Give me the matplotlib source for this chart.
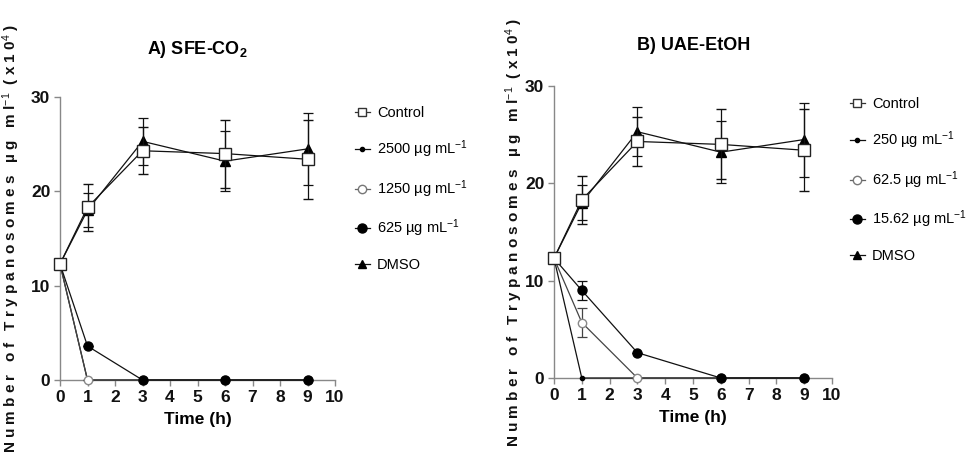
import matplotlib
matplotlib.use("Agg")
import matplotlib.pyplot as plt

FONT = 'Liberation Sans'
plt.rcParams['font.family'] = [FONT, 'DejaVu Sans']
plt.rcParams['mathtext.fontset'] = 'custom'
plt.rcParams['mathtext.rm'] = FONT
plt.rcParams['mathtext.it'] = FONT
plt.rcParams['mathtext.bf'] = FONT + ':bold'

# ---- data ----
time = [0, 1, 3, 6, 9]

control = [12.3, 18.3, 24.3, 24.0, 23.4]
control_err = [0.0, 2.5, 2.5, 3.6, 4.2]
dmso = [12.3, 18.0, 25.3, 23.2, 24.5]
dmso_err = [0.0, 1.8, 2.5, 3.2, 3.8]

# Panel A (SFE-CO2)
a_high = [12.3, 0.0, 0.0, 0.0, 0.0]
a_mid = [12.3, 0.0, 0.0, 0.0, 0.0]
a_mid_err = [0.0, 0.0, 0.0, 0.0, 0.0]
a_low = [12.3, 3.6, 0.0, 0.0, 0.0]
a_low_err = [0.0, 0.0, 0.0, 0.0, 0.0]
a_labels = ['Control', '2500 µg mL$^{-1}$', '1250 µg mL$^{-1}$', '625 µg mL$^{-1}$', 'DMSO']

# Panel B (UAE-EtOH)
b_high = [12.3, 0.0, 0.0, 0.0, 0.0]
b_mid = [12.3, 5.7, 0.0, 0.0, 0.0]
b_mid_err = [0.0, 1.5, 0.0, 0.0, 0.0]
b_low = [12.3, 9.0, 2.6, 0.0, 0.0]
b_low_err = [0.0, 1.0, 0.0, 0.0, 0.0]
b_labels = ['Control', '250 µg mL$^{-1}$', '62.5 µg mL$^{-1}$', '15.62 µg mL$^{-1}$', 'DMSO']

xticks = list(range(0, 11))
yticks = [0, 10, 20, 30]

fig = plt.figure(figsize=(9.75, 4.59), dpi=100)
axA = fig.add_axes([60/975, 79/459, 275/975, 283/459])
axB = fig.add_axes([554/975, 81/459, 278/975, 292/459])

lw = 0.9


def panel(ax, high, mid, mid_err, low, low_err, labels, legend_anchor):
    ax.errorbar(time, mid, yerr=mid_err, color='#444444', lw=lw, marker='o', ms=6,
                mfc='white', mec='#888888', capsize=3.5, elinewidth=lw, capthick=lw,
                clip_on=False, zorder=3)
    ax.plot(time, high, color='#111111', lw=lw, marker='o', ms=3, mfc='black',
            mec='black', clip_on=False, zorder=3)
    ax.errorbar(time, low, yerr=low_err, color='#111111', lw=lw, marker='o', ms=6.5,
                mfc='black', mec='black', capsize=3.5, elinewidth=lw, capthick=lw,
                clip_on=False, zorder=3)
    ax.errorbar(time, dmso, yerr=dmso_err, color='#111111', lw=lw, marker='^', ms=7,
                mfc='black', mec='black', capsize=3.5, elinewidth=lw, capthick=lw,
                clip_on=False, zorder=4)
    ax.errorbar(time, control, yerr=control_err, color='#111111', lw=lw, marker='s', ms=8,
                mfc='white', mec='#222222', mew=1.0, capsize=3.5, elinewidth=lw,
                capthick=lw, clip_on=False, zorder=5)
    # legend proxies
    hc, = ax.plot([], [], color='#333333', lw=lw, marker='s', ms=6, mfc='white', mec='#333333')
    hh, = ax.plot([], [], color='#111111', lw=lw, marker='o', ms=3, mfc='black', mec='black')
    hm, = ax.plot([], [], color='#666666', lw=lw, marker='o', ms=6, mfc='white', mec='#777777')
    hl, = ax.plot([], [], color='#111111', lw=lw, marker='o', ms=6.5, mfc='black', mec='black')
    hd, = ax.plot([], [], color='#111111', lw=lw, marker='^', ms=6, mfc='black', mec='black')
    ax.legend([hc, hh, hm, hl, hd], labels, loc='upper left', bbox_to_anchor=legend_anchor,
              bbox_transform=fig.transFigure,
              frameon=False, fontsize=10.5, handlelength=1.0, handletextpad=0.5,
              labelspacing=1.25, borderaxespad=0, borderpad=0)

    ax.set_xlim(0, 10)
    ax.set_ylim(0, 30)
    ax.set_xticks(xticks)
    ax.set_yticks(yticks)
    for s in ['top', 'right']:
        ax.spines[s].set_visible(False)
    for s in ['left', 'bottom']:
        ax.spines[s].set_color('#888888')
        ax.spines[s].set_linewidth(1.0)
    ax.tick_params(direction='out', length=4, width=1.0, color='#888888',
                   labelsize=12.5, labelcolor='#111111', pad=3)
    for t in ax.get_xticklabels() + ax.get_yticklabels():
        t.set_fontweight('bold')
    ax.set_xlabel('Time (h)', fontsize=12.5, fontweight='bold', labelpad=5)


panel(axA, a_high, a_mid, a_mid_err, a_low, a_low_err, a_labels, (355/975, 1 - 106/459))
panel(axB, b_high, b_mid, b_mid_err, b_low, b_low_err, b_labels, (850/975, 1 - 97/459))

fig.text(197/975, 1 - 50/459, 'A) SFE-CO$_\\mathbf{2}$', ha='center', va='center',
         fontsize=13, fontweight='bold')
fig.text(694/975, 1 - 45/459, 'B) UAE-EtOH', ha='center', va='center',
         fontsize=13, fontweight='bold')

ylab = 'N u m b e r   o f   T r y p a n o s o m e s   µ g   m l$^{-1}$  ( x 1 0$^{4}$ )'
fig.text(11/975, 1 - 238/459, ylab, rotation=90, ha='center', va='center',
         fontsize=11, fontweight='bold', color='#111111')
fig.text(514/975, 1 - 232/459, ylab, rotation=90, ha='center', va='center',
         fontsize=11, fontweight='bold', color='#111111')

fig.savefig('out.png', dpi=100)
